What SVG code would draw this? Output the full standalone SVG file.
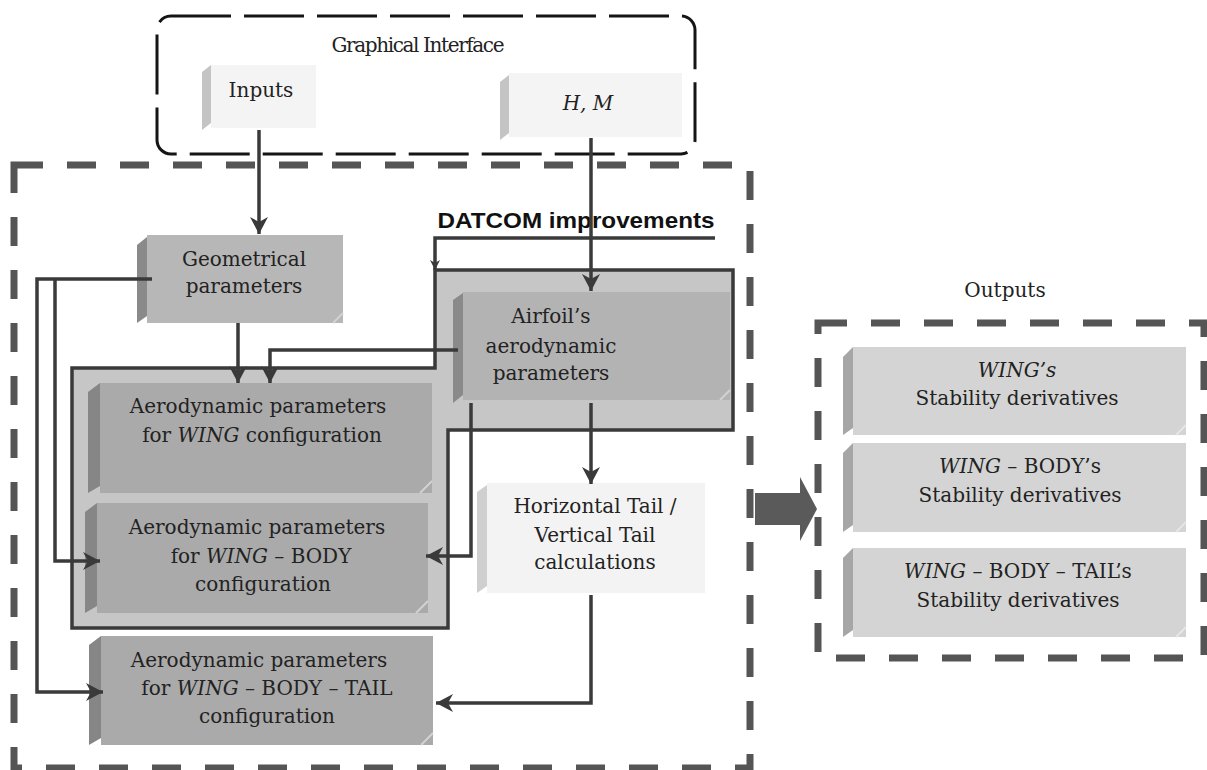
<svg xmlns="http://www.w3.org/2000/svg" width="1207" height="770" viewBox="0 0 1207 770">
<style>
.t{font-family:"DejaVu Serif","Liberation Serif",serif;font-size:20px;fill:#222;text-anchor:middle}
.i{font-style:italic}
.ln{fill:none;stroke:#3a3a3a;stroke-width:3.5}
.dash{fill:none;stroke:#555;stroke-width:7;stroke-dasharray:29 24}
.cut{fill:none;stroke:#d2d2d2;stroke-width:2}
.face1{fill:#f4f4f4}.bev1{fill:#c4c4c4}
.face2{fill:#b7b7b7}.bev2{fill:#8a8a8a}
.face3{fill:#aaaaaa}.bev3{fill:#868686}
.face4{fill:#d4d4d4}.bev4{fill:#a6a6a6}
</style>
<defs>
<marker id="ah" markerUnits="userSpaceOnUse" markerWidth="20" markerHeight="20" refX="17" refY="9" orient="auto">
<path d="M0,0 L17,9 L0,18 L5,9 z" fill="#3a3a3a"/>
</marker>
<marker id="ahs" markerUnits="userSpaceOnUse" markerWidth="12" markerHeight="12" refX="10" refY="5" orient="auto">
<path d="M0,0 L10,5 L0,10 L3,5 z" fill="#3a3a3a"/>
</marker>
</defs>
<rect width="1207" height="770" fill="#ffffff"/>

<!-- containers -->
<g id="graphical-interface">
<rect x="157" y="16" width="538" height="138" rx="14" fill="none" stroke="#151515" stroke-width="3" stroke-dasharray="60 13"/>
<text class="t" x="418" y="52" font-size="19" textLength="173">Graphical Interface</text>
</g>
<g id="main-container">
<rect class="dash" x="14" y="165" width="736" height="603"/>
</g>
<g id="outputs-container">
<text class="t" x="1005" y="297" font-size="19">Outputs</text>
<rect class="dash" x="818" y="323" width="386" height="335"/>
</g>

<!-- nodes -->
<g id="inputs">
<rect class="face1" x="211" y="65" width="105" height="63"/>
<polygon class="bev1" points="202,72 211,65 211,123 202,130"/>
<text class="t" x="261" y="97">Inputs</text>
</g>
<g id="hm">
<rect class="face1" x="509" y="73" width="173" height="64"/>
<polygon class="bev1" points="500,82 509,75 509,133 500,140"/>
<text class="t i" x="588" y="110">H, M</text>
</g>
<g id="datcom">
<text x="576" y="228" font-family="Liberation Sans,Arial,sans-serif" font-weight="bold" font-size="22" fill="#111" text-anchor="middle" textLength="277" lengthAdjust="spacingAndGlyphs">DATCOM improvements</text>
</g>
<g id="frame">
<polygon points="72,368 435,368 435,270 733,270 733,430 448,430 448,628 72,628" fill="#c6c6c6" stroke="#3a3a3a" stroke-width="3.5"/>
</g>
<g id="geometrical">
<rect class="face2" x="147" y="235" width="196" height="88"/>
<polygon class="bev2" points="137,245 147,237 147,316 137,323"/>
<polyline class="cut" points="333,323 343,313"/>
<text class="t" x="244" y="266">Geometrical</text>
<text class="t" x="244" y="293">parameters</text>
</g>
<g id="airfoil">
<rect x="463" y="292" width="267" height="108" fill="#b3b3b3"/>
<polygon class="bev2" points="453,300 463,293 463,395 453,403"/>
<polyline class="cut" points="720,400 730,390"/>
<text class="t" x="551" y="323">Airfoil’s</text>
<text class="t" x="551" y="353">aerodynamic</text>
<text class="t" x="551" y="380">parameters</text>
</g>
<g id="wing">
<rect class="face3" x="100" y="383" width="332" height="110"/>
<polygon class="bev3" points="88,392 100,383 100,486 88,493"/>
<polyline class="cut" points="420,493 432,481"/>
<text class="t" x="258" y="413">Aerodynamic parameters</text>
<text class="t" x="262" y="442">for <tspan class="i">WING</tspan> configuration</text>
</g>
<g id="wing-body">
<rect class="face3" x="97" y="503" width="331" height="110"/>
<polygon class="bev3" points="85,512 97,503 97,606 85,613"/>
<polyline class="cut" points="416,613 428,601"/>
<text class="t" x="257" y="534">Aerodynamic parameters</text>
<text class="t" x="261" y="563">for <tspan class="i">WING</tspan> – BODY</text>
<text class="t" x="263" y="591">configuration</text>
</g>
<g id="wing-body-tail">
<rect class="face3" x="101" y="636" width="332" height="109"/>
<polygon class="bev3" points="89,645 101,636 101,738 89,745"/>
<polyline class="cut" points="421,745 433,733"/>
<text class="t" x="259" y="667">Aerodynamic parameters</text>
<text class="t" x="267" y="695">for <tspan class="i">WING</tspan> – BODY – TAIL</text>
<text class="t" x="267" y="723">configuration</text>
</g>
<g id="tail-calc">
<rect x="487" y="483" width="218" height="110" fill="#f3f3f3"/>
<polygon points="477,492 487,485 487,586 477,593" fill="#cfcfcf"/>
<text class="t" x="595" y="513">Horizontal Tail /</text>
<text class="t" x="595" y="542">Vertical Tail</text>
<text class="t" x="595" y="569">calculations</text>
</g>
<g id="out-wing">
<rect class="face4" x="853" y="347" width="333" height="88"/>
<polygon class="bev4" points="843,357 853,347 853,428 843,435"/>
<polyline class="cut" points="1176,435 1186,425" style="stroke:#e6e6e6"/>
<text class="t" x="1017" y="377"><tspan class="i">WING’s</tspan></text>
<text class="t" x="1017" y="405">Stability derivatives</text>
</g>
<g id="out-wing-body">
<rect class="face4" x="853" y="443" width="333" height="89"/>
<polygon class="bev4" points="843,453 853,443 853,525 843,532"/>
<polyline class="cut" points="1176,532 1186,522" style="stroke:#e6e6e6"/>
<text class="t" x="1020" y="473"><tspan class="i">WING</tspan> – BODY’s</text>
<text class="t" x="1020" y="502">Stability derivatives</text>
</g>
<g id="out-wing-body-tail">
<rect class="face4" x="853" y="548" width="333" height="89"/>
<polygon class="bev4" points="843,558 853,548 853,630 843,637"/>
<polyline class="cut" points="1176,637 1186,627" style="stroke:#e6e6e6"/>
<text class="t" x="1018" y="578"><tspan class="i">WING</tspan> – BODY – TAIL’s</text>
<text class="t" x="1018" y="607">Stability derivatives</text>
</g>
<g id="block-arrow">
<polygon points="755,493 800,493 800,477 817,509 800,541 800,525 755,525" fill="#5a5a5a"/>
</g>

<!-- connectors -->
<g id="connectors">
<path class="ln" d="M259,130 V234" marker-end="url(#ah)"/>
<path class="ln" d="M591,138 V291" marker-end="url(#ah)"/>
<path class="ln" d="M715,238 H435 V270" stroke-width="3" marker-end="url(#ahs)"/>
<path class="ln" d="M238,323 V383" marker-end="url(#ah)"/>
<path class="ln" d="M458,350 H270 V383" marker-end="url(#ah)"/>
<path class="ln" d="M152,279 H37 V692 H103" marker-end="url(#ah)"/>
<path class="ln" d="M55,279 V561 H100" marker-end="url(#ah)"/>
<path class="ln" d="M471,403 V556 H426" marker-end="url(#ah)"/>
<path class="ln" d="M591,403 V484" marker-end="url(#ah)"/>
<path class="ln" d="M591,595 V703 H436" marker-end="url(#ah)"/>
</g>
</svg>
